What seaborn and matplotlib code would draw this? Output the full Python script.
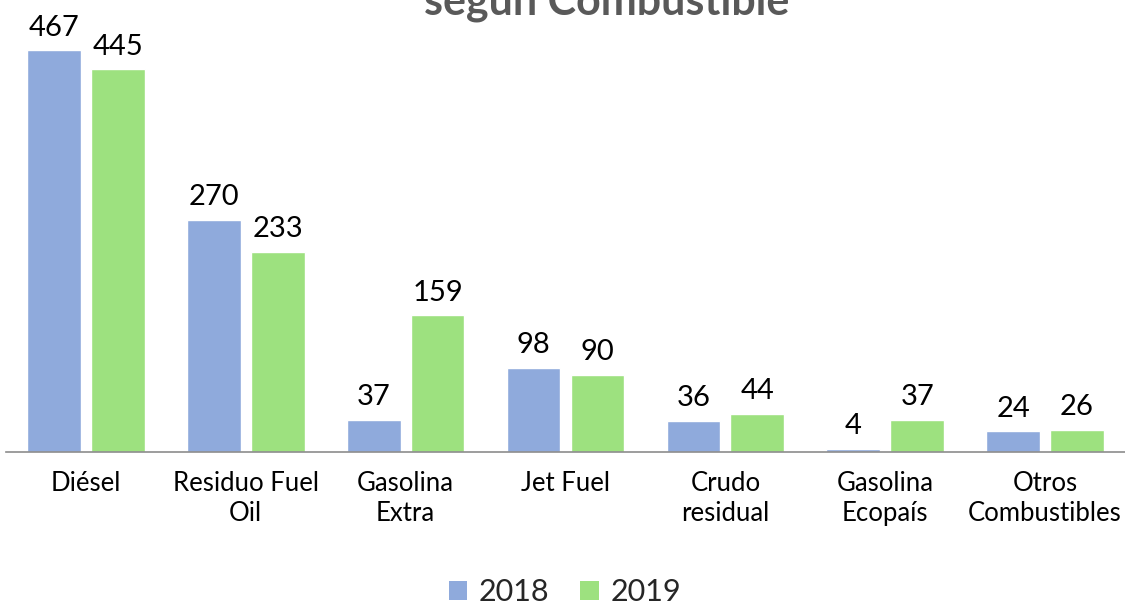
import matplotlib
matplotlib.use("Agg")
import matplotlib.pyplot as plt
import seaborn as sns
import pandas as pd
from matplotlib.patches import Patch

categories = ["Diésel", "Residuo Fuel\nOil", "Gasolina\nExtra", "Jet Fuel",
              "Crudo\nresidual", "Gasolina\nEcopaís", "Otros\nCombustibles"]
values_2018 = [467, 270, 37, 98, 36, 4, 24]
values_2019 = [445, 233, 159, 90, 44, 37, 26]
years = ["2018", "2019"]
colors = ["#8FAADC", "#9DE17F"]
title = "según Combustible"

sns.set_theme(style="white")
plt.rcParams["font.family"] = ["Lato", "DejaVu Sans"]

df = pd.DataFrame({
    "cat": categories * 2,
    "year": [years[0]] * len(categories) + [years[1]] * len(categories),
    "val": values_2018 + values_2019,
})

fig = plt.figure(figsize=(11.25, 6.06), dpi=100)
ax = fig.add_axes([6 / 1125, (606 - 452) / 606, 1 - 6 / 1125, 430 / 606])
sns.barplot(data=df, x="cat", y="val", hue="year", palette=colors,
            width=0.8, gap=0.16, ax=ax, legend=False, saturation=1)
ax.set_ylim(0, 500)
ax.set_xlim(-0.5, 6.5)
for c in ax.containers:
    ax.bar_label(c, fmt="%d", padding=7, fontsize=21, color="#000000")
ax.set_xlabel("")
ax.set_ylabel("")
ax.set_yticks([])
ax.tick_params(axis="x", length=0, pad=14, labelsize=18.5, colors="#000000")
for lbl in ax.get_xticklabels():
    lbl.set_linespacing(1.25)
for s in ["top", "right", "left"]:
    ax.spines[s].set_visible(False)
ax.spines["bottom"].set_color("#8C8C8C")
ax.spines["bottom"].set_linewidth(1.2)

handles = [Patch(facecolor=colors[i], edgecolor="none") for i in range(2)]
fig.legend(handles, years, loc="center", bbox_to_anchor=(565 / 1125, 1 - 592 / 606),
           ncol=2, frameon=False, fontsize=22, handlelength=0.6, handleheight=0.6,
           handletextpad=0.4, columnspacing=1.0)

fig.text(607 / 1125, 1 - 15 / 606, title, ha="center", va="baseline",
         fontsize=31, fontweight="bold", color="#595959")

fig.savefig("out.png", dpi=100)
